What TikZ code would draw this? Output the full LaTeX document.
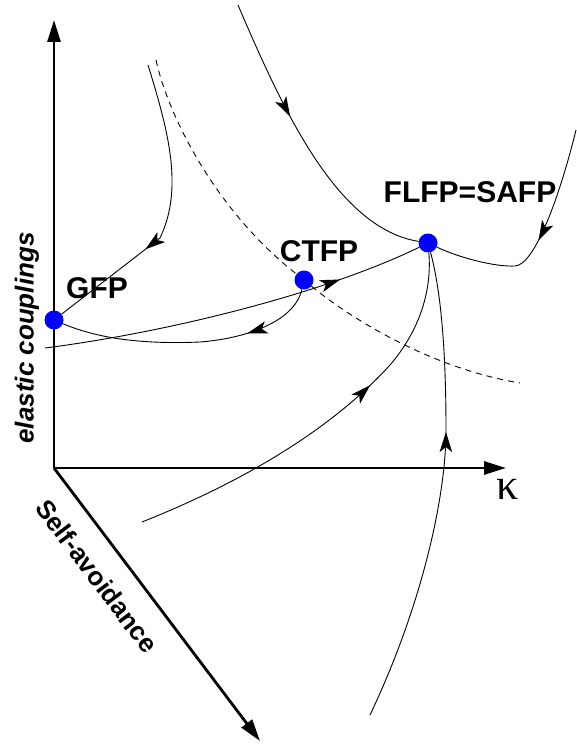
\documentclass[tikz,border=0pt]{standalone}
\usepackage{fontspec}
\setmainfont{Liberation Sans}
\newfontfamily\greekfont{Liberation Serif}
\usetikzlibrary{arrows.meta,decorations.markings}

\tikzset{
	fixpoint/.style={circle, fill=blue, inner sep=0pt, minimum size=19pt},
	fplabel/.style={font=\fontsize{30}{36}\selectfont\bfseries},
	axislabel/.style={font=\fontsize{26}{31}\selectfont\bfseries},
	axis/.style={line width=2.8pt, -{Triangle[length=22pt,width=13pt]}},
	flow/.style={line width=0.9pt},
	flowarrow/.style={postaction={decorate}, decoration={markings, mark=at position #1 with {\arrow{Stealth[length=20pt,width=12.5pt,inset=5pt]}}}},
}

\begin{document}
\begin{tikzpicture}[x=1pt, y=-1pt]
	\useasboundingbox (0,0) rectangle (576,746);

	% axes
	\coordinate (o) at (54,468);
	\coordinate (ytip) at (54,20);
	\coordinate (xtip) at (506,468);
	\coordinate (ztip) at (260,741);
	\draw[axis] (o) -- (ytip);
	\draw[axis] (o) -- (xtip);
	\draw[axis] (o) -- (ztip);

	\node[axislabel, rotate=90] (ylabel) at (27,338) {\itshape elastic couplings};
	\node[axislabel, rotate=-53] (zlabel) at (97,576) {Self-avoidance};
	\node[font=\greekfont\fontsize{44}{48}\selectfont] (xlabel) at (508,489) {κ};

	% fixed points
	\node[fixpoint] (gfp) at (54,320) {};
	\node[fixpoint] (ctfp) at (304,280) {};
	\node[fixpoint] (flfp) at (428,243) {};

	\node[fplabel] (gfplabel) at (97,288) {GFP};
	\node[fplabel] (ctfplabel) at (319,251) {CTFP};
	\node[fplabel] (flfplabel) at (470,192) {FLFP=SAFP};

	% free ends of the flow lines
	\coordinate (a0) at (148,65);
	\coordinate (a1) at (160,238);
	\coordinate (b0) at (238,5);
	\coordinate (b1) at (576,130);
	\coordinate (c0) at (45,348);
	\coordinate (d0) at (156,60);
	\coordinate (d1) at (520,383);
	\coordinate (e0) at (142,522);
	\coordinate (f0) at (370,715);

	% separatrix
	\draw[dash pattern=on 6pt off 5pt, line width=0.9pt] (d0) .. controls (168,115) and (215,210) .. (ctfp);
	\draw[dash pattern=on 6pt off 5pt, line width=0.9pt] (ctfp) .. controls (350,318) and (430,368) .. (d1);

	% flows
	\draw[flow, flowarrow=0.65] (a0) .. controls (168,130) and (184,188) .. (a1) -- (gfp);
	\draw[flow, flowarrow=0.4] (b0) .. controls (285,115) and (338,228) .. (flfp);
	\draw[flow, flowarrow=0.5] (b1) .. controls (560,195) and (535,265) .. (515,266) .. controls (495,267) and (460,258) .. (flfp);
	\draw[flow, flowarrow=0.78] (c0) .. controls (170,332) and (325,293) .. (flfp);
	\draw[flow, flowarrow=0.28] (ctfp) .. controls (295,320) and (250,338) .. (200,342) .. controls (130,345) and (90,335) .. (gfp);
	\draw[flow, flowarrow=0.64] (e0) .. controls (260,475) and (340,420) .. (390,365) .. controls (420,330) and (432,290) .. (flfp);
	\draw[flow, flowarrow=0.62] (f0) .. controls (420,610) and (446,500) .. (446,430) .. controls (446,330) and (438,280) .. (flfp);

\end{tikzpicture}
\end{document}
